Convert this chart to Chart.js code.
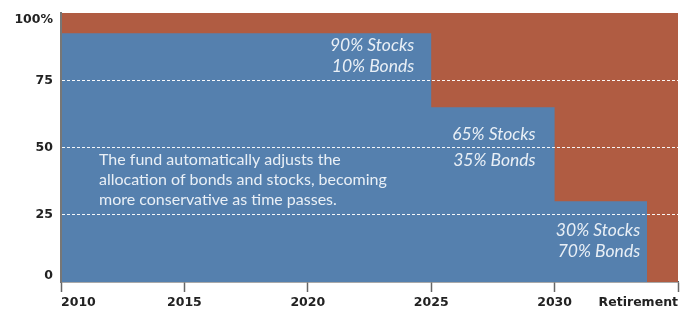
<!DOCTYPE html>
<html>
<head>
<meta charset="utf-8">
<script src="https://cdn.jsdelivr.net/npm/chart.js@4/dist/chart.umd.min.js"></script>
<style>
  html, body { margin: 0; padding: 0; background: #fff; }
  #wrap { width: 694px; height: 312px; }
</style>
</head>
<body>
<div id="wrap"><canvas id="chart"></canvas></div>
<script>
"use strict";

// Target-date fund glide path: stock share steps down toward retirement.
const stepStart = [2010, 2025, 2030];
const stockShare = [92.5, 65, 30];
const glideEnd = 2033.75;
const retirement = 2035;
const bondTop = 100;
const stepLabels = [["90% Stocks", "10% Bonds"], ["65% Stocks", "35% Bonds"], ["30% Stocks", "70% Bonds"]];
const note = ["The fund automatically adjusts the", "allocation of bonds and stocks, becoming", "more conservative as time passes."];

const BLUE = "#5580ae";
const RED = "#b05c42";
const TEXT = "#e9eff6";

function stockPoints() {
  const pts = [];
  stepStart.forEach((x, i) => {
    const end = i < stepStart.length - 1 ? stepStart[i + 1] : glideEnd;
    pts.push({ x, y: stockShare[i] });
    pts.push({ x: end, y: stockShare[i] });
  });
  return pts;
}

// labels drawn inside the areas, anchored to the step corners through the scales
const notes = {
  id: "notes",
  afterDatasetsDraw(chart) {
    const { ctx, scales: { x, y } } = chart;
    const ends = [stepStart[1], stepStart[2], glideEnd];
    const dx = [17, 19, 7];
    const dy = [[12, 33], [27, 53], [29, 50]];
    ctx.save();
    ctx.fillStyle = TEXT;
    ctx.textBaseline = "middle";
    ctx.textAlign = "right";
    ctx.font = "italic 17.5px Lato";
    stepLabels.forEach((lines, i) => {
      const px = x.getPixelForValue(ends[i]) - dx[i];
      const py = y.getPixelForValue(stockShare[i]);
      lines.forEach((t, j) => ctx.fillText(t, px, py + dy[i][j]));
    });
    ctx.textAlign = "left";
    ctx.font = "16px Lato";
    const nx = x.getPixelForValue(stepStart[0]) + 38;
    const ny = y.getPixelForValue(50) + 12;
    note.forEach((t, j) => ctx.fillText(t, nx, ny + j * 20));
    ctx.restore();
  },
};

new Chart(document.getElementById("chart"), {
  type: "line",
  data: {
    datasets: [
      { label: "Stocks", data: stockPoints(), backgroundColor: BLUE, borderWidth: 0,
        pointRadius: 0, fill: "origin", order: 0 },
      { label: "Bonds", data: [{ x: stepStart[0], y: bondTop }, { x: retirement, y: bondTop }],
        backgroundColor: RED, borderWidth: 0, pointRadius: 0, fill: "origin", order: 1 },
    ],
  },
  options: {
    responsive: true,
    maintainAspectRatio: false,
    animation: false,
    layout: { padding: { top: 13, right: 16, left: 0, bottom: 0 } },
    plugins: { legend: { display: false }, tooltip: { enabled: false } },
    scales: {
      x: {
        type: "linear",
        min: stepStart[0],
        max: retirement,
        afterFit: (s) => { s.height = 30; },
        border: { color: "#555", width: 1.5 },
        grid: { drawOnChartArea: false, drawTicks: true, tickLength: 10, tickColor: "#666", tickWidth: 1.5 },
        ticks: {
          stepSize: 5, align: "inner", padding: 3, color: "#222",
          font: { family: "DejaVu Sans", weight: "bold", size: 12.5 },
          callback: (v) => (v === retirement ? "Retirement" : String(v)),
        },
      },
      y: {
        min: 0,
        max: 100,
        afterFit: (s) => { s.width = 61; s.paddingTop = 0; s.paddingBottom = 0; },
        border: { color: "#777", width: 2, dash: [3, 2], z: 1 },
        grid: {
          z: 1,
          drawTicks: false,
          lineWidth: 1,
          color: (c) => (c.tick && c.tick.value > 0 && c.tick.value < 100 ? "rgba(255,255,255,0.95)" : "rgba(0,0,0,0)"),
        },
        ticks: {
          stepSize: 25, padding: 8, color: "#222",
          font: { family: "DejaVu Sans", weight: "bold", size: 12.5, lineHeight: 1 },
          callback: (v) => (v === 100 ? ["", "100%"] : v === 0 ? ["0", ""] : String(v)),
        },
      },
    },
  },
  plugins: [notes],
});
</script>
</body>
</html>
